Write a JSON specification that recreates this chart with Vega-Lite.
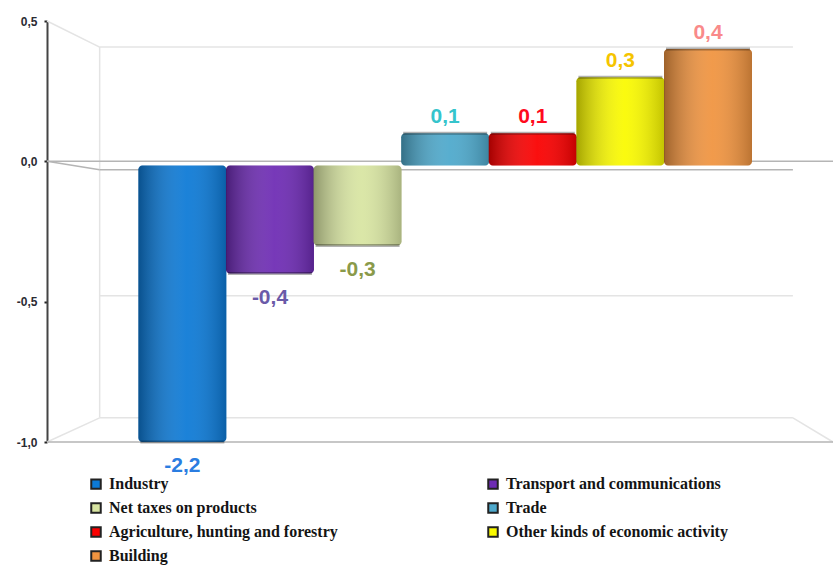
{
  "$schema": "https://vega.github.io/schema/vega-lite/v6.json",
  "width": 786,
  "height": 421,
  "autosize": "none",
  "padding": {"left": 47, "top": 21, "right": 0, "bottom": 124},
  "background": "#ffffff",
  "config": {
    "view": {"stroke": null},
    "locale": {"number": {"decimal": ",", "thousands": " ", "grouping": [3], "currency": ["", ""], "minus": "-"}}
  },
  "datasets": {
    "sectors": [
      {"sector": "Industry", "value": -2.2},
      {"sector": "Transport and communications", "value": -0.4},
      {"sector": "Net taxes on products", "value": -0.3},
      {"sector": "Trade", "value": 0.1},
      {"sector": "Agriculture, hunting and forestry", "value": 0.1},
      {"sector": "Other kinds of economic activity", "value": 0.3},
      {"sector": "Building", "value": 0.4}
    ],
    "wall": [
      {"a": 0, "b": 0.067, "from": 0.5, "to": 0.407},
      {"a": 0.067, "b": 0.949, "from": 0.407, "to": 0.407},
      {"a": 0.067, "b": 0.067, "from": 0.407, "to": -0.914},
      {"a": 0.067, "b": 0.949, "from": -0.479, "to": -0.479},
      {"a": 0, "b": 0.067, "from": -1, "to": -0.914},
      {"a": 0.949, "b": 1, "from": -0.914, "to": -1},
      {"a": 0.067, "b": 0.949, "from": -0.914, "to": -0.914}
    ],
    "floor": [
      {"a": 0, "b": 1, "from": 0, "to": 0},
      {"a": 0, "b": 1, "from": -1, "to": -1},
      {"a": 0.067, "b": 0.949, "from": -0.03, "to": -0.03},
      {"a": 0, "b": 0.067, "from": 0, "to": -0.03}
    ]
  },
  "resolve": {"scale": {"x": "independent", "color": "independent"}},
  "layer": [
    {
      "data": {"name": "wall"},
      "mark": {"type": "rule", "color": "#e4e4e4", "strokeWidth": 1.5},
      "encoding": {
        "x": {"field": "a", "type": "quantitative", "scale": {"domain": [0, 1]}, "axis": null},
        "x2": {"field": "b"},
        "y": {
          "field": "from",
          "type": "quantitative",
          "scale": {"domain": [-1, 0.5], "clamp": true, "nice": false},
          "axis": {
            "values": [-1, -0.5, 0, 0.5],
            "format": ".1f",
            "title": null,
            "grid": false,
            "domainColor": "#444444",
            "domainWidth": 2,
            "tickColor": "#222222",
            "tickSize": 3,
            "tickWidth": 2,
            "labelFont": "Liberation Sans",
            "labelFontWeight": "bold",
            "labelFontSize": 12,
            "labelColor": "#2b2b33",
            "labelPadding": 7
          }
        },
        "y2": {"field": "to"}
      }
    },
    {
      "data": {"name": "floor"},
      "mark": {"type": "rule", "color": "#b5b5b5", "strokeWidth": 1.5},
      "encoding": {
        "x": {"field": "a", "type": "quantitative", "scale": {"domain": [0, 1]}, "axis": null},
        "x2": {"field": "b"},
        "y": {"field": "from", "type": "quantitative", "scale": {"domain": [-1, 0.5], "clamp": true, "nice": false}},
        "y2": {"field": "to"}
      }
    },
    {
      "data": {"name": "sectors"},
      "mark": {"type": "bar", "cornerRadius": 4, "width": 88},
      "encoding": {
        "x": {
          "field": "sector",
          "type": "nominal",
          "sort": null,
          "axis": null,
          "scale": {
            "type": "band",
            "domain": ["Industry", "Transport and communications", "Net taxes on products", "Trade", "Agriculture, hunting and forestry", "Other kinds of economic activity", "Building"],
            "paddingInner": 0,
            "paddingOuter": 0.986,
            "align": 0.53
          }
        },
        "y": {"field": "value", "type": "quantitative", "scale": {"domain": [-1, 0.5], "clamp": true, "nice": false}},
        "y2": {"datum": -0.015},
        "color": {
          "field": "sector",
          "type": "nominal",
          "scale": {
            "domain": ["Industry", "Net taxes on products", "Agriculture, hunting and forestry", "Building", "Transport and communications", "Trade", "Other kinds of economic activity"],
            "range": ["#0d7ad6", "#d8e5a2", "#fa0000", "#f09440", "#6e2cb4", "#4ea9cc", "#fafa00"]
          },
          "legend": {
            "title": null,
            "orient": "none",
            "legendX": 41,
            "legendY": 455,
            "columns": 2,
            "columnPadding": 146,
            "rowPadding": 6,
            "symbolType": "square",
            "symbolSize": 90,
            "symbolStrokeColor": "#222222",
            "symbolStrokeWidth": 2,
            "labelOffset": 5,
            "labelFont": "Liberation Serif",
            "labelFontWeight": "bold",
            "labelFontSize": 16,
            "labelColor": "#141414",
            "labelLimit": 320
          }
        }
      }
    },
    {
      "data": {"name": "sectors"},
      "mark": {
        "type": "bar",
        "cornerRadius": 4,
        "width": 88,
        "color": {
          "gradient": "linear",
          "x1": 0, "x2": 1, "y1": 0, "y2": 0,
          "stops": [
            {"offset": 0, "color": "rgba(0,0,0,0.34)"},
            {"offset": 0.55, "color": "rgba(255,255,255,0.06)"},
            {"offset": 1, "color": "rgba(0,0,0,0.22)"}
          ]
        }
      },
      "encoding": {
        "x": {
          "field": "sector",
          "type": "nominal",
          "sort": null,
          "axis": null,
          "scale": {
            "type": "band",
            "domain": ["Industry", "Transport and communications", "Net taxes on products", "Trade", "Agriculture, hunting and forestry", "Other kinds of economic activity", "Building"],
            "paddingInner": 0,
            "paddingOuter": 0.986,
            "align": 0.53
          }
        },
        "y": {"field": "value", "type": "quantitative", "scale": {"domain": [-1, 0.5], "clamp": true, "nice": false}},
        "y2": {"datum": -0.015}
      }
    },
    {
      "data": {"name": "sectors"},
      "mark": {"type": "tick", "size": 84, "thickness": 3, "color": "#000000", "opacity": 0.3},
      "encoding": {
        "x": {
          "field": "sector",
          "type": "nominal",
          "sort": null,
          "axis": null,
          "scale": {
            "type": "band",
            "domain": ["Industry", "Transport and communications", "Net taxes on products", "Trade", "Agriculture, hunting and forestry", "Other kinds of economic activity", "Building"],
            "paddingInner": 0,
            "paddingOuter": 0.986,
            "align": 0.53
          }
        },
        "y": {"field": "value", "type": "quantitative", "scale": {"domain": [-1, 0.5], "clamp": true, "nice": false}}
      }
    },
    {
      "data": {"name": "sectors"},
      "transform": [{"filter": "datum.value < 0"}],
      "mark": {"type": "text", "dy": 24, "font": "Liberation Sans", "fontSize": 21, "fontWeight": "bold"},
      "encoding": {
        "x": {
          "field": "sector",
          "type": "nominal",
          "sort": null,
          "axis": null,
          "scale": {
            "type": "band",
            "domain": ["Industry", "Transport and communications", "Net taxes on products", "Trade", "Agriculture, hunting and forestry", "Other kinds of economic activity", "Building"],
            "paddingInner": 0,
            "paddingOuter": 0.986,
            "align": 0.53
          }
        },
        "y": {"field": "value", "type": "quantitative", "scale": {"domain": [-1, 0.5], "clamp": true, "nice": false}},
        "text": {"field": "value", "type": "quantitative", "format": ".1f"},
        "color": {
          "field": "sector",
          "type": "nominal",
          "legend": null,
          "scale": {
            "domain": ["Industry", "Transport and communications", "Net taxes on products"],
            "range": ["#2a7de1", "#6a5aa8", "#8a9a4a"]
          }
        }
      }
    },
    {
      "data": {"name": "sectors"},
      "transform": [{"filter": "datum.value > 0"}],
      "mark": {"type": "text", "dy": -16, "font": "Liberation Sans", "fontSize": 21, "fontWeight": "bold"},
      "encoding": {
        "x": {
          "field": "sector",
          "type": "nominal",
          "sort": null,
          "axis": null,
          "scale": {
            "type": "band",
            "domain": ["Industry", "Transport and communications", "Net taxes on products", "Trade", "Agriculture, hunting and forestry", "Other kinds of economic activity", "Building"],
            "paddingInner": 0,
            "paddingOuter": 0.986,
            "align": 0.53
          }
        },
        "y": {"field": "value", "type": "quantitative", "scale": {"domain": [-1, 0.5], "clamp": true, "nice": false}},
        "text": {"field": "value", "type": "quantitative", "format": ".1f"},
        "color": {
          "field": "sector",
          "type": "nominal",
          "legend": null,
          "scale": {
            "domain": ["Trade", "Agriculture, hunting and forestry", "Other kinds of economic activity", "Building"],
            "range": ["#35c4cc", "#ff0a1e", "#f5c400", "#f98a8a"]
          }
        }
      }
    }
  ]
}
